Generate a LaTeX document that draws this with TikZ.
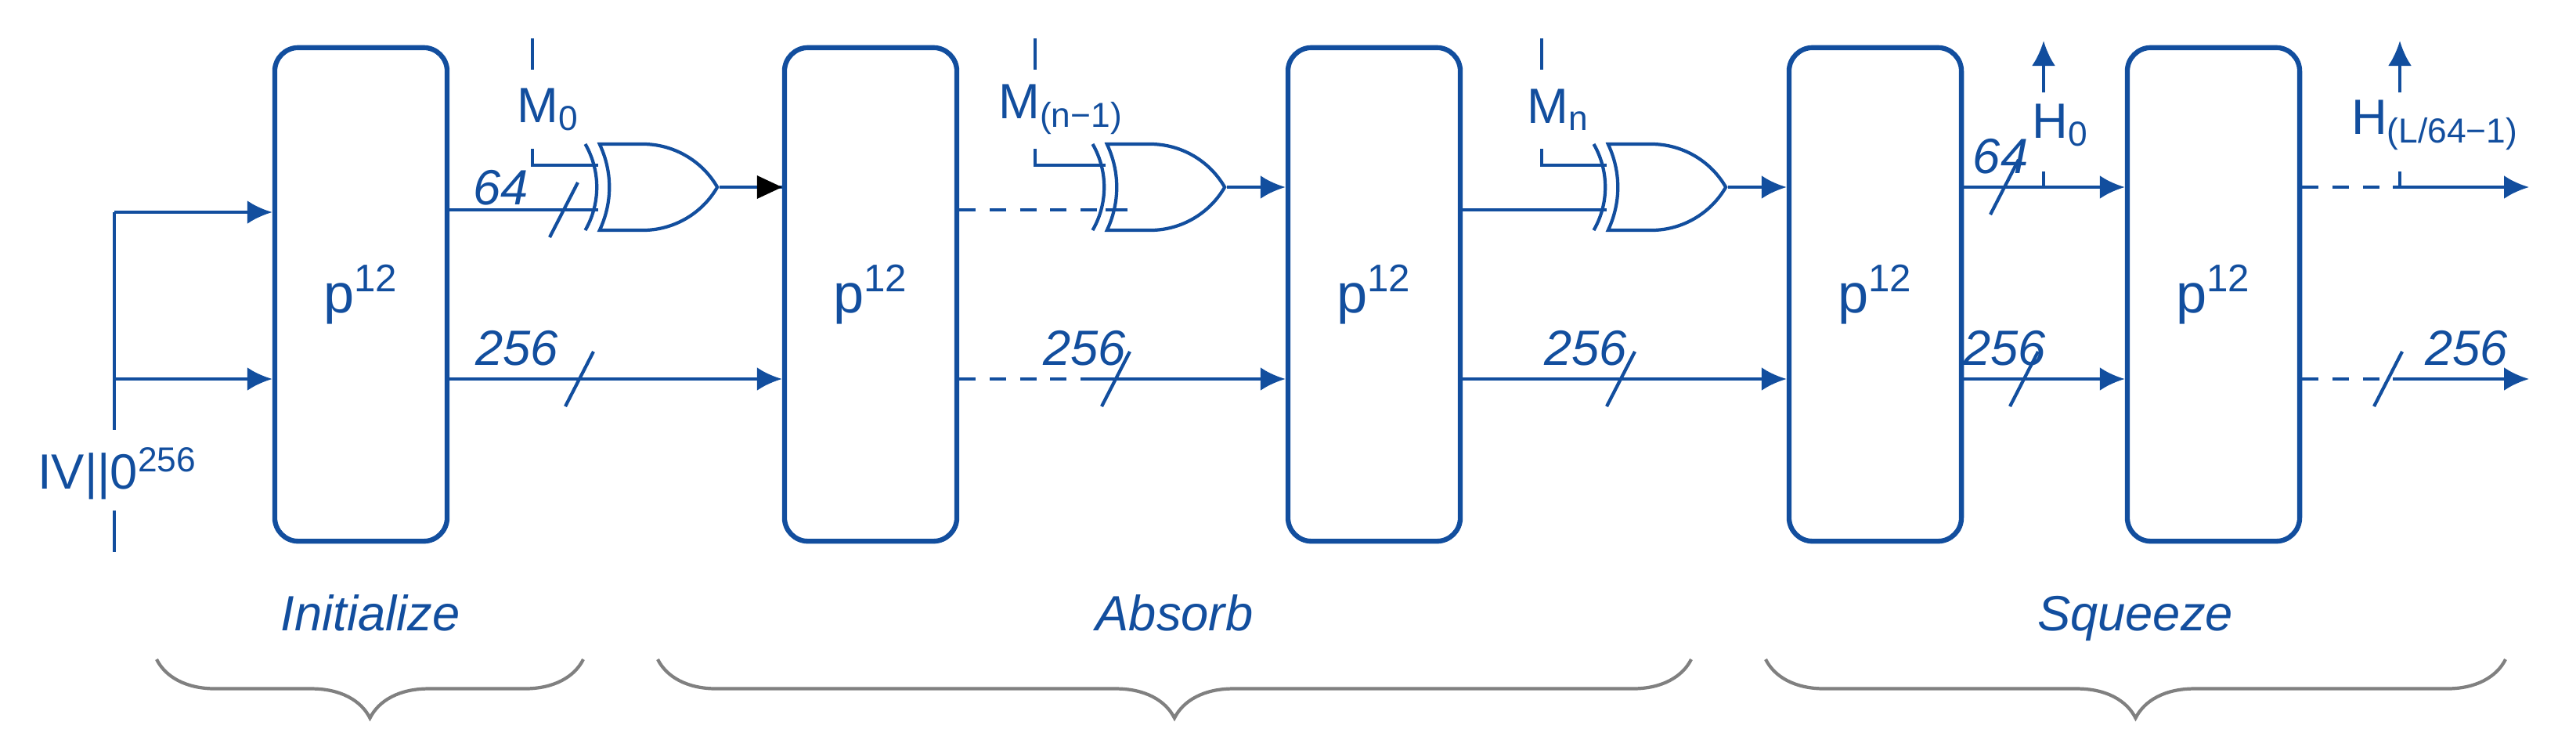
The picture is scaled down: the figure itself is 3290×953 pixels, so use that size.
\documentclass[tikz,border=0pt]{standalone}
\usepackage{fontspec}
\setmainfont{Liberation Sans}
\usetikzlibrary{arrows.meta,circuits.logic.US,decorations.pathreplacing}
\definecolor{ablue}{RGB}{18,78,158}
\definecolor{agray}{RGB}{128,128,128}
\tikzset{
  perm/.style={draw=ablue,line width=1.8pt,rounded corners=0.3cm,minimum width=2.2cm,minimum height=6.3cm,text=ablue,font=\fontsize{20}{24}\selectfont},
  wire/.style={draw=ablue,line width=1.2pt},
  arr/.style={wire,-{Latex[length=0.32cm,width=0.3cm]}},
  dwire/.style={wire,dash pattern=on 6pt off 5pt},
  lbl/.style={text=ablue,font=\fontsize{18}{22}\selectfont\itshape},
  txt/.style={text=ablue,font=\fontsize{18}{22}\selectfont},
  xorg/.style={xor gate US,draw=ablue,line width=1.2pt,logic gate inputs=nn,minimum width=1.1cm,minimum height=1.1cm},
  brc/.style={draw=agray,line width=1.2pt,decorate,decoration={brace,amplitude=0.75cm}}
}
\begin{document}
\begin{tikzpicture}[x=0.01cm,y=-0.01cm]
\useasboundingbox (0,0) rectangle (3290,953);
% permutation boxes
\node[perm] (b1) at (461,376) {p\textsuperscript{12}};
\node[perm] (b2) at (1112,376) {p\textsuperscript{12}};
\node[perm] (b3) at (1755,376) {p\textsuperscript{12}};
\node[perm] (b4) at (2395,376) {p\textsuperscript{12}};
\node[perm] (b5) at (2827,376) {p\textsuperscript{12}};
% xor gates
\node[xorg] (x1) at (830,239) {};
\node[xorg] (x2) at (1478,239) {};
\node[xorg] (x3) at (2118,239) {};
% IV input
\coordinate (ivt) at (146,271);
\coordinate (ivm) at (146,484);
\coordinate (ivb) at (146,549);
\node[txt] (iv) at (150,605) {IV||0\textsuperscript{256}};
\draw[wire] (ivt) -- (ivb);
\draw[wire] (146,652) -- (146,705);
\draw[arr] (ivt) -- (ivt -| b1.west);
\draw[arr] (ivm) -- (ivm -| b1.west);
% message blocks
\draw[wire] (680,49) -- (680,89);
\node[txt] (m0) at (700,140) {M\textsubscript{0}};
\coordinate (m0c) at (680,190);
\draw[wire] (m0c) |- ([xshift=0.04cm,yshift=0.28cm]x1.west);
\draw[wire] (1322,49) -- (1322,89);
\node[txt] (m1) at (1355,140) {M\textsubscript{(n−1)}};
\coordinate (m1c) at (1322,190);
\draw[wire] (m1c) |- ([xshift=0.04cm,yshift=0.28cm]x2.west);
\draw[wire] (1969,49) -- (1969,89);
\node[txt] (m2) at (1990,140) {M\textsubscript{n}};
\coordinate (m2c) at (1969,190);
\draw[wire] (m2c) |- ([xshift=0.04cm,yshift=0.28cm]x3.west);
% rate part
\coordinate (g1) at ([xshift=0.04cm,yshift=-0.29cm]x1.west);
\coordinate (g2) at ([xshift=0.04cm,yshift=-0.29cm]x2.west);
\coordinate (g3) at ([xshift=0.04cm,yshift=-0.29cm]x3.west);
\draw[wire] (b1.east |- g1) -- (g1);
\node[lbl] (r1) at (640,240) {64};
\draw[wire] (720,268) +(-18,35) -- +(18,-35);
\draw[wire] (x1.output) -- (x1.output -| b2.west);
\fill[black] (x1.output -| b2.west) -- +(-32,-15) -- +(-32,15) -- cycle;
\draw[dwire] (b2.east |- g2) -- (1440,0 |- g2);
\draw[wire] (1440,0 |- g2) -- (g2);
\draw[arr] (x2.output) -- (x2.output -| b3.west);
\draw[wire] (b3.east |- g3) -- (g3);
\draw[arr] (x3.output) -- (x3.output -| b4.west);
\draw[arr] (b4.east |- x3.output) -- (b5.west |- x3.output);
\node[lbl] (r4) at (2555,200) {64};
\draw[wire] (2560,239) +(-18,35) -- +(18,-35);
\draw[dwire] (b5.east |- x3.output) -- (3065,239);
\draw[arr] (3065,239) -- (3230,239);
% outputs
\draw[wire] (2610,239) -- (2610,219);
\draw[arr] (2610,118) -- (2610,52);
\node[txt] (h0) at (2632,160) {H\textsubscript{0}};
\draw[wire] (3065,239) -- (3065,219);
\draw[arr] (3065,118) -- (3065,52);
\node[txt] (h1) at (3110,160) {H\textsubscript{(L/64−1)}};
% capacity part
\draw[arr] (b1.east |- ivm) -- (b2.west |- ivm);
\node[lbl] (c1) at (660,445) {256};
\draw[wire] (740,484) +(-18,35) -- +(18,-35);
\draw[dwire] (b2.east |- ivm) -- (1400,484);
\draw[arr] (1400,484) -- (b3.west |- ivm);
\node[lbl] (c2) at (1385,445) {256};
\draw[wire] (1425,484) +(-18,35) -- +(18,-35);
\draw[arr] (b3.east |- ivm) -- (b4.west |- ivm);
\node[lbl] (c3) at (2025,445) {256};
\draw[wire] (2070,484) +(-18,35) -- +(18,-35);
\draw[arr] (b4.east |- ivm) -- (b5.west |- ivm);
\node[lbl] (c4) at (2560,445) {256};
\draw[wire] (2585,484) +(-18,35) -- +(18,-35);
\draw[dwire] (b5.east |- ivm) -- (3060,484);
\draw[arr] (3060,484) -- (3230,484);
\node[lbl] (c5) at (3150,445) {256};
\draw[wire] (3050,484) +(-18,35) -- +(18,-35);
% phases
\node[lbl,anchor=base] (ini) at (473,805) {Initialize};
\node[lbl,anchor=base] (abs) at (1500,805) {Absorb};
\node[lbl,anchor=base] (squ) at (2727,805) {Squeeze};
\draw[brc] (745,842) -- (200,842);
\draw[brc] (2160,842) -- (840,842);
\draw[brc] (3200,842) -- (2255,842);
\end{tikzpicture}
\end{document}
